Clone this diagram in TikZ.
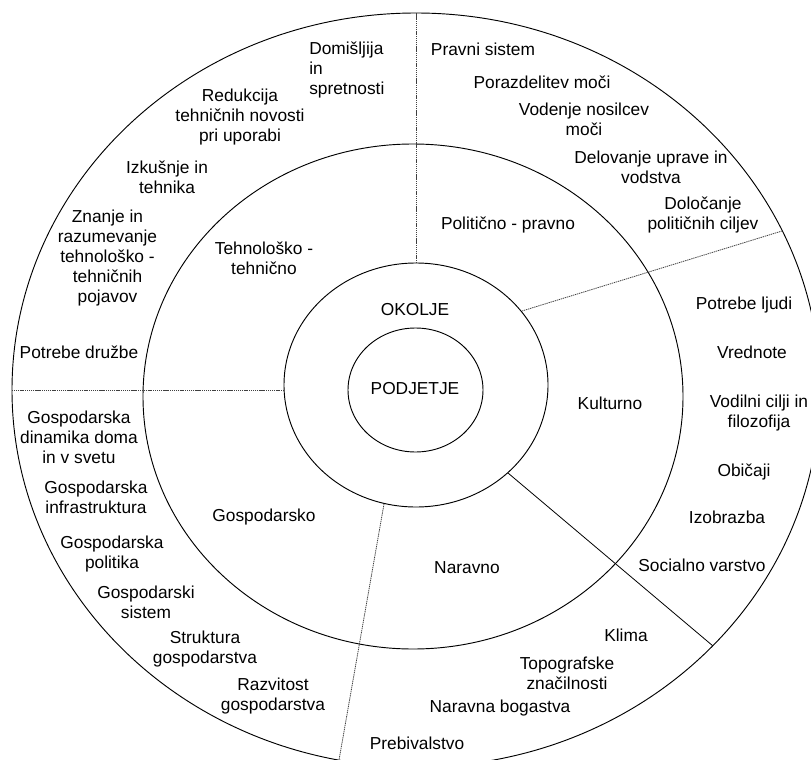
\documentclass[tikz,border=0pt]{standalone}
\usepackage{fontspec}
\setmainfont{Liberation Sans}
\begin{document}
\begin{tikzpicture}[x=0.75pt,y=-0.75pt,
  ring/.style={line width=0.7pt},
  divider/.style={line width=0.6pt, black!75, dash pattern=on 1pt off 0.6pt},
  divsolid/.style={line width=0.6pt},
  lbl/.style={inner sep=0pt, align=center, font=\fontsize{13}{15}\selectfont},
  lbll/.style={lbl, align=left}]
\clip (0,0) rectangle (811,760);
\fill[white] (0,0) rectangle (811,760);

% rings
\draw[ring] (416,390) ellipse [x radius=404, y radius=377];
\draw[ring] (413,396.5) ellipse [x radius=270, y radius=252.5];
\draw[ring] (416,385) ellipse [x radius=132, y radius=122];
\draw[ring] (415.5,390) ellipse [x radius=67.5, y radius=62];

% end points of the sector dividers
\coordinate (topO) at (416,13);   \coordinate (topI) at (416,263);
\coordinate (leftO) at (12,390);  \coordinate (leftI) at (284,390);
\coordinate (neI) at (522,311);   \coordinate (neO) at (782,231);
\coordinate (seI) at (508,473);   \coordinate (seO) at (713,646);
\coordinate (sI) at (384,504);    \coordinate (sO) at (339,760);

\draw[divider] (topI) -- (topO);
\draw[divider] (leftI) -- (leftO);
\draw[divider] (neI) -- (neO);
\draw[divsolid] (seI) -- (seO);
\draw[divider] (sI) -- (sO);

% core
\node[lbl] (podjetje) at (415,389) {PODJETJE};
\node[lbl] (okolje) at (415,310) {OKOLJE};

% middle ring
\node[lbl] (teh) at (264,258) {Tehnološko -\\tehnično};
\node[lbl] (pol) at (508,225) {Politično - pravno};
\node[lbl] (kul) at (610,403) {Kulturno};
\node[lbl] (nar) at (467,568) {Naravno};
\node[lbl] (gos) at (264,517) {Gospodarsko};

% outer ring: technological
\node[lbll, anchor=west] (t1) at (309,70) {Domišljija\\in\\spretnosti};
\node[lbl] (t2) at (240,117) {Redukcija\\tehničnih novosti\\pri uporabi};
\node[lbl] (t3) at (167,177) {Izkušnje in\\tehnika};
\node[lbl] (t4) at (107.5,258) {Znanje in\\razumevanje\\tehnološko -\\tehničnih\\pojavov};
\node[lbl] (t5) at (79,352) {Potrebe družbe};

% outer ring: political
\node[lbl] (p1) at (483,49) {Pravni sistem};
\node[lbl] (p2) at (542,82) {Porazdelitev moči};
\node[lbl] (p3) at (584,119) {Vodenje nosilcev\\moči};
\node[lbl] (p4) at (651,167) {Delovanje uprave in\\vodstva};
\node[lbl] (p5) at (703,214.5) {Določanje\\političnih ciljev};

% outer ring: cultural
\node[lbl] (k1) at (744,305) {Potrebe ljudi};
\node[lbl] (k2) at (752,352) {Vrednote};
\node[lbl] (k3) at (759,413) {Vodilni cilji in\\filozofija};
\node[lbl] (k4) at (744,472) {Običaji};
\node[lbl] (k5) at (727,517) {Izobrazba};
\node[lbl] (k6) at (702,565) {Socialno varstvo};

% outer ring: natural
\node[lbl] (n1) at (626,635) {Klima};
\node[lbl] (n2) at (567,673) {Topografske\\značilnosti};
\node[lbl] (n3) at (500,708) {Naravna bogastva};
\node[lbl] (n4) at (417,743) {Prebivalstvo};

% outer ring: economic
\node[lbl] (g1) at (79,437) {Gospodarska\\dinamika doma\\in v svetu};
\node[lbl] (g2) at (96,497) {Gospodarska\\infrastruktura};
\node[lbl] (g3) at (112,554.5) {Gospodarska\\politika};
\node[lbl] (g4) at (146,602) {Gospodarski\\sistem};
\node[lbl] (g5) at (205,649) {Struktura\\gospodarstva};
\node[lbl] (g6) at (273,696) {Razvitost\\gospodarstva};
\end{tikzpicture}
\end{document}
